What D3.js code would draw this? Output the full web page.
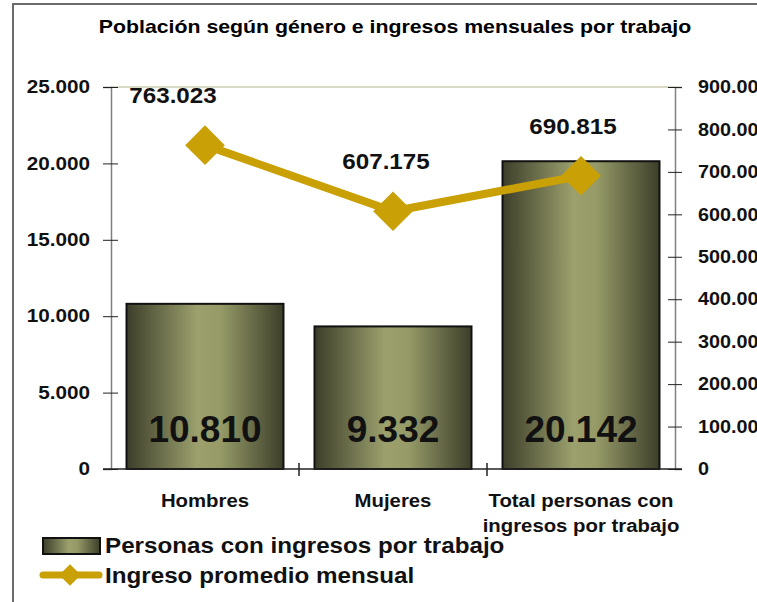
<!DOCTYPE html>
<html>
<head>
<meta charset="utf-8">
<script src="https://cdn.jsdelivr.net/npm/d3@7"></script>
<style>
  body { margin: 0; background: #fff; }
  svg { display: block; font-family: "Liberation Sans", Arial, sans-serif; font-weight: bold; }
</style>
</head>
<body>
<svg width="757" height="602"></svg>
<script>
// data
var categories = ["Hombres", "Mujeres", "Total personas con ingresos por trabajo"];
var catLines = [["Hombres"], ["Mujeres"], ["Total personas con", "ingresos por trabajo"]];
var personas = [10810, 9332, 20142];
var ingreso = [763023, 607175, 690815];
var leftTicks = [0, 5000, 10000, 15000, 20000, 25000];
var rightTicks = [0, 100000, 200000, 300000, 400000, 500000, 600000, 700000, 800000, 900000];

var svg = d3.select("svg"),
width = +svg.attr("width"),
height = +svg.attr("height");

var loc = d3.formatLocale({decimal: ",", thousands: ".", grouping: [3], currency: ["", ""]});
var fmt = loc.format(",d");

var plotLeft = 111, plotRight = 675, plotTop = 87, plotBottom = 469;
var gold = "#c9a005";

// widen glyphs a bit, the original font runs wider than Arial
function stretch(sel, k) {
  sel.each(function() {
    var w = this.getComputedTextLength();
    d3.select(this).attr("textLength", w * k).attr("lengthAdjust", "spacingAndGlyphs");
  });
}

// outer frame
svg.append("rect")
  .attr("x", 13).attr("y", 4)
  .attr("width", 800).attr("height", 700)
  .attr("fill", "none")
  .attr("stroke", "#6b6b6b")
  .attr("stroke-width", 2);

svg.append("text")
  .attr("x", 395).attr("y", 33)
  .attr("text-anchor", "middle")
  .style("font-size", "18.5px")
  .text("Población según género e ingresos mensuales por trabajo")
  .call(stretch, 1.15);

// gradient for bars
var defs = svg.append("defs");
var grad = defs.append("linearGradient").attr("id", "barGrad")
  .attr("x1", 0).attr("x2", 1).attr("y1", 0).attr("y2", 0);
grad.append("stop").attr("offset", 0).attr("stop-color", "#3d3e2a");
grad.append("stop").attr("offset", 0.45).attr("stop-color", "#9ba06d");
grad.append("stop").attr("offset", 0.6).attr("stop-color", "#959a67");
grad.append("stop").attr("offset", 1).attr("stop-color", "#3d3e2a");

var x = d3.scaleBand().domain(categories).range([plotLeft, plotRight]).padding(0);
var yL = d3.scaleLinear().domain([0, 25000]).range([plotBottom, plotTop]);
var yR = d3.scaleLinear().domain([0, 900000]).range([plotBottom, plotTop]);
var barW = x.bandwidth() * 0.835;

// plot top border
svg.append("line")
  .attr("x1", plotLeft).attr("x2", plotRight)
  .attr("y1", plotTop).attr("y2", plotTop)
  .attr("stroke", "#d9d9c6").attr("stroke-width", 2);

// bars
svg.append("g")
  .selectAll("rect")
  .data(personas)
  .enter().append("rect")
  .attr("x", (d, i) => x(categories[i]) + (x.bandwidth() - barW) / 2)
  .attr("y", d => yL(d))
  .attr("width", barW)
  .attr("height", d => yL(0) - yL(d))
  .attr("fill", "url(#barGrad)")
  .attr("stroke", "#111")
  .attr("stroke-width", 2);

svg.append("g")
  .selectAll("text")
  .data(personas)
  .enter().append("text")
  .attr("x", (d, i) => x(categories[i]) + x.bandwidth() / 2)
  .attr("y", 442)
  .attr("text-anchor", "middle")
  .style("font-size", "37px")
  .attr("fill", "#111")
  .text(d => fmt(d));

// left axis
var axL = d3.axisLeft(yL).tickValues(leftTicks).tickFormat(fmt).tickSize(8).tickPadding(13);
var gL = svg.append("g").attr("transform", `translate(${plotLeft},0)`).call(axL);
gL.select(".domain").attr("stroke", "#808080").attr("stroke-width", 1.5);
gL.selectAll(".tick line").attr("x1", -8).attr("x2", 7).attr("stroke", "#222");
gL.selectAll(".tick text").style("font-size", "18px").attr("fill", "#111")
  .style("font-family", "'Liberation Sans', Arial, sans-serif").style("font-weight", "bold")
  .call(stretch, 1.15);

// right axis (labels run past the edge, as in the original)
var axR = d3.axisRight(yR).tickValues(rightTicks).tickFormat(fmt).tickSize(7).tickPadding(16);
var gR = svg.append("g").attr("transform", `translate(${plotRight},0)`).call(axR);
gR.select(".domain").attr("stroke", "#808080").attr("stroke-width", 1.5);
gR.selectAll(".tick line").attr("x1", -7).attr("x2", 7).attr("stroke", "#222");
gR.selectAll(".tick text").style("font-size", "18px").attr("fill", "#111")
  .style("font-family", "'Liberation Sans', Arial, sans-serif").style("font-weight", "bold")
  .call(stretch, 1.1);

// category axis
svg.append("line")
  .attr("x1", plotLeft - 8).attr("x2", plotRight + 7)
  .attr("y1", plotBottom).attr("y2", plotBottom)
  .attr("stroke", "#222").attr("stroke-width", 1.5);
svg.append("g")
  .selectAll("line")
  .data(categories.slice(1))
  .enter().append("line")
  .attr("x1", d => x(d)).attr("x2", d => x(d))
  .attr("y1", plotBottom - 6).attr("y2", plotBottom + 7)
  .attr("stroke", "#222").attr("stroke-width", 1.5);

var catG = svg.append("g").selectAll("text")
  .data(catLines)
  .enter().append("text")
  .attr("text-anchor", "middle")
  .style("font-size", "18px")
  .attr("fill", "#111");
catG.selectAll("tspan")
  .data((d, i) => d.map(t => ({t: t, i: i})))
  .enter().append("tspan")
  .attr("x", d => x(categories[d.i]) + x.bandwidth() / 2)
  .attr("y", (d, j) => 507 + j * 25)
  .text(d => d.t);
catG.selectAll("tspan").each(function() {
  var w = this.getComputedTextLength();
  d3.select(this).attr("textLength", w * 1.13).attr("lengthAdjust", "spacingAndGlyphs");
});

// line series
var cx = (d, i) => x(categories[i]) + x.bandwidth() / 2;
var line = d3.line().x(cx).y(d => yR(d));
svg.append("path")
  .datum(ingreso)
  .attr("d", line)
  .attr("fill", "none")
  .attr("stroke", gold)
  .attr("stroke-width", 8);

var diamond = d3.symbol().type(d3.symbolDiamond2).size(1000);
svg.append("g")
  .selectAll("path")
  .data(ingreso)
  .enter().append("path")
  .attr("d", diamond)
  .attr("transform", (d, i) => `translate(${cx(d, i)},${yR(d)})`)
  .attr("fill", gold);

// value labels over the line
var labelDx = [-32, -7, -8];
svg.append("g")
  .selectAll("text")
  .data(ingreso)
  .enter().append("text")
  .attr("x", (d, i) => cx(d, i) + labelDx[i])
  .attr("y", d => yR(d) - 42)
  .attr("text-anchor", "middle")
  .style("font-size", "22px")
  .attr("fill", "#111")
  .text(d => fmt(d))
  .call(stretch, 1.1);

// legend
var lg = svg.append("g");
lg.append("rect")
  .attr("x", 43).attr("y", 538).attr("width", 57).attr("height", 16)
  .attr("fill", "url(#barGrad)").attr("stroke", "#111").attr("stroke-width", 2);
lg.append("text").attr("x", 105).attr("y", 553)
  .style("font-size", "22px").attr("fill", "#111")
  .text("Personas con ingresos por trabajo")
  .call(stretch, 1.1);
lg.append("line")
  .attr("x1", 43).attr("x2", 99).attr("y1", 575).attr("y2", 575)
  .attr("stroke", gold).attr("stroke-width", 7).attr("stroke-linecap", "round");
lg.append("path")
  .attr("d", d3.symbol().type(d3.symbolDiamond2).size(300))
  .attr("transform", "translate(70,575)")
  .attr("fill", gold);
lg.append("text").attr("x", 105).attr("y", 583)
  .style("font-size", "22px").attr("fill", "#111")
  .text("Ingreso promedio mensual")
  .call(stretch, 1.1);
</script>
</body>
</html>
